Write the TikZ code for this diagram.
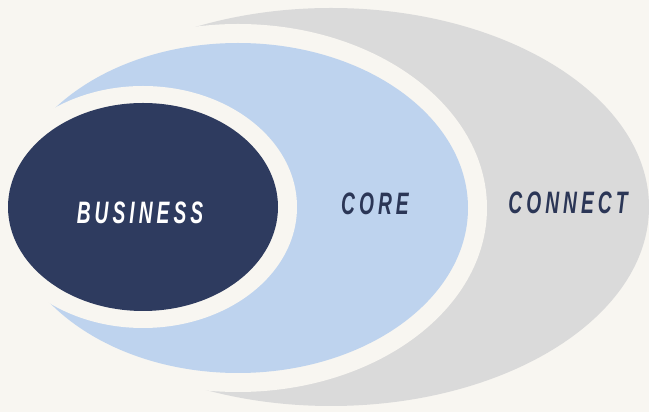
\documentclass[tikz,border=0pt]{standalone}
\usepackage{fontspec}
\newfontfamily\ringfont{Liberation Sans}[FakeStretch=0.62,LetterSpace=13]

\definecolor{paper}{HTML}{F8F6F1}
\definecolor{ringgrey}{HTML}{DADADA}
\definecolor{ringblue}{HTML}{BED3EE}
\definecolor{ringnavy}{HTML}{2E3B5F}
\definecolor{inknavy}{HTML}{2B3656}

\begin{document}
\begin{tikzpicture}[x=1pt,y=1pt,
    ringlabel/.style={font=\ringfont\bfseries\itshape\fontsize{31}{31}\selectfont, text=inknavy, inner sep=0pt}]
            \useasboundingbox (0,0) rectangle (649,412);
            \fill[paper] (0,0) rectangle (649,412);
            \fill[ringgrey] (331,205) ellipse (318 and 199);
            \fill[paper] (238,204) ellipse (249 and 184);
            \fill[ringblue] (238,204) ellipse (230 and 165);
            \fill[paper] (143,205) ellipse (154 and 121);
            \fill[ringnavy] (143,205) ellipse (135 and 104);
            
            \node[ringlabel, text=white] (business) at (140,199) {BUSINESS};
            \node[ringlabel] (core) at (375,208) {CORE};
            \node[ringlabel] (connect) at (568,209) {CONNECT};
        \end{tikzpicture}
\end{document}
